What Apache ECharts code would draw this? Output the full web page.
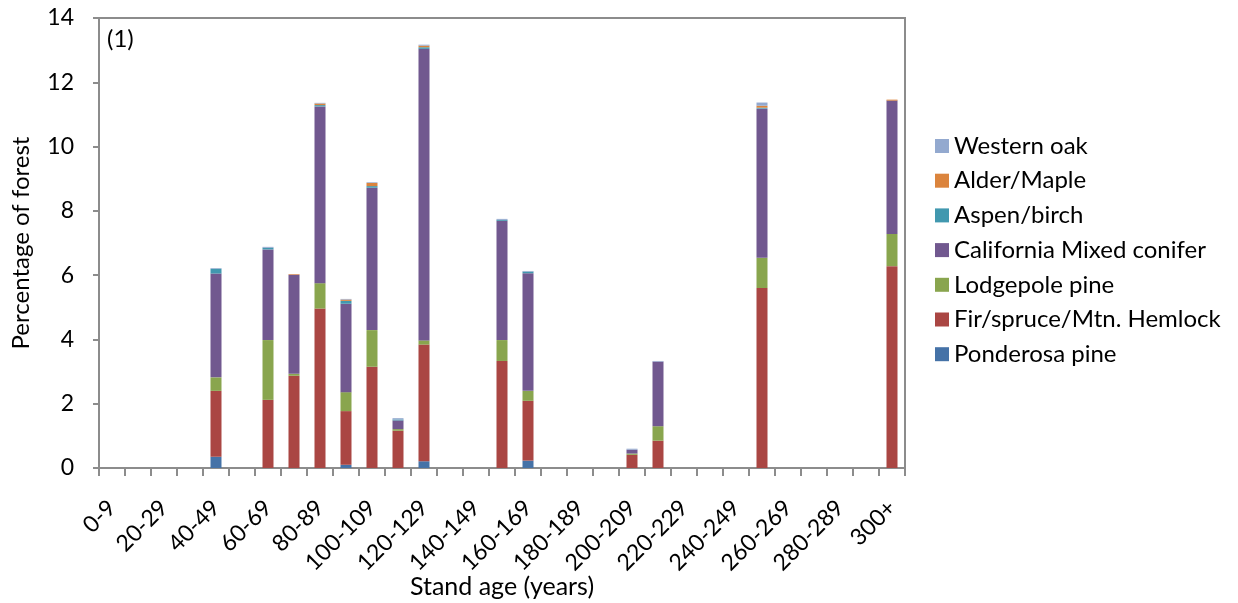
<!DOCTYPE html>
<html>
<head>
<meta charset="utf-8">
<script src="https://cdn.jsdelivr.net/npm/echarts@6/dist/echarts.min.js"></script>
<style>html,body{margin:0;padding:0;background:#fff}#c{width:1238px;height:603px}</style>
</head>
<body>
<div id="c"></div>
<script>
const categories = ['0-9','10-19','20-29','30-39','40-49','50-59','60-69','70-79','80-89','90-99','100-109','110-119','120-129','130-139','140-149','150-159','160-169','170-179','180-189','190-199','200-209','210-219','220-229','230-239','240-249','250-259','260-269','270-279','280-289','290-299','300+'];
const ponderosa   = [0,0,0,0,0.35, 0,0,    0,    0,    0.10, 0,    0,    0.21, 0,0,0,    0.23, 0,0,0,0,    0,    0,0,0,0,    0,0,0,0,0];
const firSpruce   = [0,0,0,0,2.05, 0,2.12, 2.87, 4.96, 1.67, 3.15, 1.16, 3.63, 0,0,3.33, 1.86, 0,0,0,0.41, 0.85, 0,0,0,5.60, 0,0,0,0,6.28];
const lodgepole   = [0,0,0,0,0.42, 0,1.86, 0.06, 0.79, 0.59, 1.14, 0.05, 0.13, 0,0,0.65, 0.31, 0,0,0,0.04, 0.45, 0,0,0,0.94, 0,0,0,0,1.00];
const calMixed    = [0,0,0,0,3.23, 0,2.82, 3.08, 5.50, 2.75, 4.43, 0.27, 9.07, 0,0,3.71, 3.66, 0,0,0,0.12, 2.01, 0,0,0,4.64, 0,0,0,0,4.15];
const aspenBirch  = [0,0,0,0,0.15, 0,0.05, 0,    0.04, 0.09, 0.05, 0.03, 0.05, 0,0,0.03, 0.05, 0,0,0,0,    0,    0,0,0,0.03, 0,0,0,0,0];
const alderMaple  = [0,0,0,0,0,    0,0,    0.02, 0.05, 0.04, 0.10, 0,    0.05, 0,0,0,    0,    0,0,0,0,    0,    0,0,0,0.06, 0,0,0,0,0.03];
const westernOak  = [0,0,0,0,0.02, 0,0.03, 0,    0.02, 0.02, 0.02, 0.04, 0.03, 0,0,0.03, 0.02, 0,0,0,0.03, 0.02, 0,0,0,0.10, 0,0,0,0,0];
const yTicks = [0,2,4,6,8,10,12,14];

const seriesDefs = [
  {name:'Ponderosa pine', data:ponderosa, color:'#4572A7'},
  {name:'Fir/spruce/Mtn. Hemlock', data:firSpruce, color:'#AA4643'},
  {name:'Lodgepole pine', data:lodgepole, color:'#89A54E'},
  {name:'California Mixed conifer', data:calMixed, color:'#71588F'},
  {name:'Aspen/birch', data:aspenBirch, color:'#4198AF'},
  {name:'Alder/Maple', data:alderMaple, color:'#DB843D'},
  {name:'Western oak', data:westernOak, color:'#93A9CF'}
];
const FONT = 'Lato';
const chart = echarts.init(document.getElementById('c'), null, {renderer:'canvas'});
chart.setOption({
  animation:false,
  textStyle:{fontFamily:FONT},
  grid:{left:99, right:333, top:18, bottom:135, containLabel:false, outerBoundsMode:'none',
        show:true, borderColor:'#8c8c8c', borderWidth:2, backgroundColor:'transparent'},
  legend:{
    orient:'vertical', left:930, top:129,
    data:seriesDefs.map(s=>s.name).reverse(),
    itemWidth:14, itemHeight:14, itemGap:10.7, icon:'rect',
    textStyle:{fontSize:24, fontFamily:FONT, color:'#000', lineHeight:24}
  },
  xAxis:{
    type:'category', data:categories,
    name:'Stand age (years)', nameLocation:'middle', nameGap:106, nameMoveOverlap:false,
    nameTextStyle:{fontSize:25, color:'#000', fontFamily:FONT},
    axisLine:{lineStyle:{color:'#8c8c8c', width:2}},
    axisTick:{show:true, length:8, lineStyle:{color:'#8c8c8c', width:2}, alignWithLabel:false, interval:0},
    axisLabel:{interval:1, rotate:45, fontSize:23, color:'#000', margin:36, fontFamily:FONT},
    splitLine:{show:false}
  },
  yAxis:{
    type:'value', min:0, max:14, interval:2,
    name:'Percentage of forest', nameLocation:'middle', nameGap:66, nameRotate:90, nameMoveOverlap:false,
    nameTextStyle:{fontSize:24, color:'#000', fontFamily:FONT, verticalAlign:'bottom'},
    axisLine:{show:true, lineStyle:{color:'#8c8c8c', width:2}},
    axisTick:{show:true, length:6, lineStyle:{color:'#8c8c8c', width:2}},
    axisLabel:{fontSize:23, color:'#000', margin:25, fontFamily:FONT,
      formatter:v=>yTicks.includes(v)?String(v):''},
    splitLine:{show:false}
  },
  graphic:[{type:'text', left:107, top:27, style:{text:'(1)', fontSize:24, fill:'#000', fontFamily:FONT}}],
  series:seriesDefs.map(s=>({
    name:s.name, type:'bar', stack:'total', data:s.data, barWidth:11,
    itemStyle:{color:s.color}
  }))
});
</script>
</body>
</html>
